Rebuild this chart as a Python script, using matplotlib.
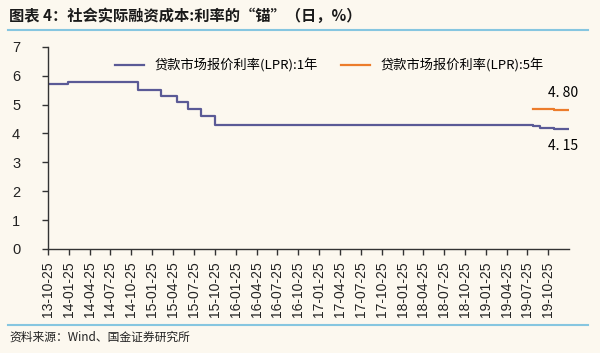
import pandas as pd
import numpy as np
import matplotlib.pyplot as plt
import matplotlib.dates as mdates
from matplotlib.lines import Line2D

plt.rcParams['font.family'] = ['Noto Sans CJK SC', 'DejaVu Sans']

# 1Y LPR: change dates and levels (step series)
lpr1_dates = ['2013-10-25', '2014-01-20', '2014-11-24', '2015-03-02', '2015-05-11',
              '2015-06-29', '2015-08-26', '2015-10-26', '2019-08-20', '2019-09-20',
              '2019-11-20', '2020-01-20']
lpr1_vals = [5.73, 5.77, 5.51, 5.30, 5.10, 4.85, 4.60, 4.31, 4.25, 4.20, 4.15, 4.15]

# 5Y LPR
lpr5_dates = ['2019-08-20', '2019-11-20', '2020-01-20']
lpr5_vals = [4.85, 4.80, 4.80]

tick_start, tick_end = '2013-10-25', '2019-10-25'

bg = '#fcf8ef'
c1 = '#5a5a96'
c5 = '#ec7c2b'
line_blue = '#86c6e0'

fig = plt.figure(figsize=(6, 3.53), dpi=100, facecolor=bg)
ax = fig.add_axes([0.08, 0.295, 0.868, 0.572], facecolor=bg)

d1 = pd.to_datetime(lpr1_dates)
d5 = pd.to_datetime(lpr5_dates)
ax.plot(d1, lpr1_vals, drawstyle='steps-post', color=c1, lw=1.6)
ax.plot(d5, lpr5_vals, drawstyle='steps-post', color=c5, lw=1.6)

ax.set_ylim(0, 7)
ax.set_yticks(range(0, 8))
ax.set_xlim(pd.Timestamp('2013-10-25'), pd.Timestamp('2020-01-22'))

ticks = pd.date_range(tick_start, tick_end, freq=pd.DateOffset(months=3))
ax.set_xticks(ticks)
ax.set_xticklabels([t.strftime('%y-%m-%d') for t in ticks], rotation=90,
                   fontsize=10, family=['Liberation Sans'])
for lbl in ax.get_yticklabels():
    lbl.set_family(['Liberation Sans'])
    lbl.set_fontsize(10.5)

for s in ['top', 'right']:
    ax.spines[s].set_visible(False)
for s in ['left', 'bottom']:
    ax.spines[s].set_color('#333333')
    ax.spines[s].set_linewidth(1.0)
ax.tick_params(axis='both', colors='#333333', length=4, width=1.0, labelcolor='#222222')
ax.tick_params(axis='y', pad=16)
ax.tick_params(axis='x', pad=5)

# end labels
ax.text(pd.Timestamp('2019-12-30'), 4.80 + 0.35, '4. 80', ha='center', va='bottom', fontsize=10)
ax.text(pd.Timestamp('2019-12-30'), 4.15 - 0.35, '4. 15', ha='center', va='top', fontsize=10)

handles = [Line2D([], [], color=c1, lw=1.6), Line2D([], [], color=c5, lw=1.6)]
ax.legend(handles, ['贷款市场报价利率(LPR):1年', '贷款市场报价利率(LPR):5年'],
          ncol=2, frameon=False, loc='upper left', bbox_to_anchor=(0.105, 1.0),
          fontsize=9.5, handlelength=2.2, columnspacing=1.8)

# title, rules, source
fig.text(0.015, 0.955, '图表 4：社会实际融资成本:利率的“锚”（日，%）', fontsize=11,
         fontweight='bold', va='center', ha='left', color='#1a1a1a')
fig.add_artist(Line2D([0.013, 0.98], [0.915, 0.915], color=line_blue, lw=1.5))
fig.add_artist(Line2D([0.013, 0.98], [0.08, 0.08], color=line_blue, lw=1.5))
fig.text(0.015, 0.045, '资料来源：Wind、国金证券研究所', fontsize=8.5, va='center', ha='left',
         color='#222222')

fig.savefig('out.png', dpi=100, facecolor=bg)
